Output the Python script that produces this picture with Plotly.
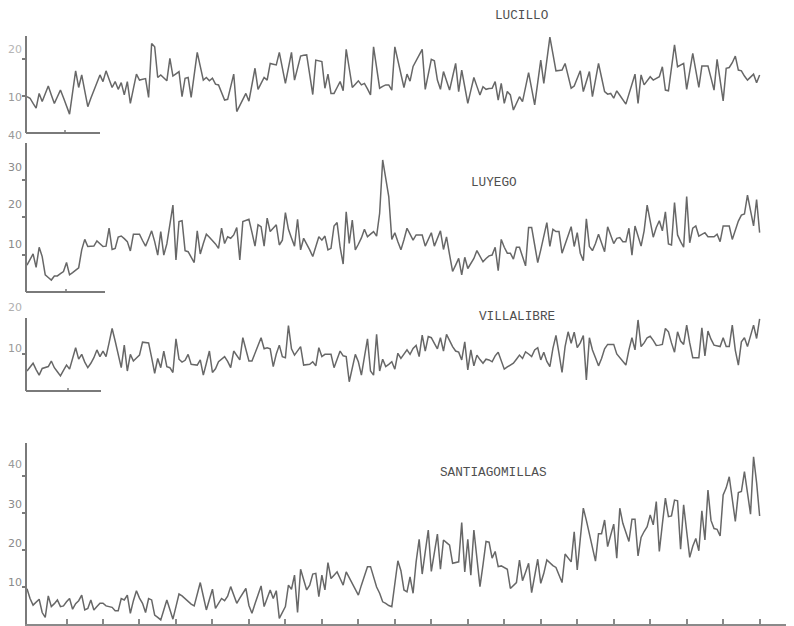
import plotly.graph_objects as go

# ---- data: monthly values (20 years, 242 points) ----
lucillo = [
    9.8, 9.4, 8.0, 6.7, 10.7, 8.5, 10.6, 12.7, 10.3, 8.0,
    9.8, 11.6, 9.5, 7.3, 5.1, 11.0, 16.8, 12.3, 15.7, 11.4,
    7.1, 9.4, 11.6, 13.6, 15.7, 13.9, 16.8, 14.5, 12.3, 13.9,
    11.8, 13.6, 10.3, 13.9, 8.0, 12.0, 15.9, 14.3, 14.5, 14.7,
    9.6, 24.2, 23.3, 15.0, 15.7, 14.9, 14.1, 20.2, 15.4, 16.0,
    16.6, 9.8, 14.8, 15.0, 9.6, 15.7, 21.8, 18.0, 14.3, 15.0,
    14.1, 14.8, 13.2, 13.0, 11.0, 8.9, 9.1, 12.5, 15.9, 5.8,
    7.5, 9.2, 10.7, 8.6, 13.0, 17.5, 11.8, 13.4, 15.0, 14.3,
    18.8, 18.6, 18.4, 21.8, 17.6, 13.4, 17.6, 21.8, 14.3, 17.5,
    20.8, 21.0, 21.1, 15.8, 10.4, 19.7, 19.5, 19.3, 12.1, 15.9,
    10.7, 10.7, 12.3, 13.9, 11.4, 22.6, 17.5, 12.3, 13.2, 14.1,
    13.0, 13.4, 11.9, 10.3, 23.3, 17.7, 12.1, 12.6, 13.0, 13.0,
    11.6, 23.3, 19.5, 15.7, 12.3, 15.9, 14.0, 18.0, 19.5, 21.0,
    22.6, 11.8, 15.8, 19.9, 19.5, 14.3, 11.8, 16.6, 14.1, 11.6,
    15.2, 18.8, 11.2, 17.0, 12.5, 8.0, 11.5, 15.0, 12.6, 10.3,
    12.5, 11.8, 12.0, 12.1, 13.9, 8.9, 13.4, 8.0, 11.2, 10.3,
    6.2, 8.0, 9.8, 8.5, 12.4, 16.3, 12.0, 7.6, 13.6, 19.7,
    13.4, 19.6, 25.9, 21.4, 16.8, 16.9, 17.0, 18.8, 15.5, 12.1,
    12.7, 14.8, 16.8, 11.2, 13.9, 16.6, 9.8, 14.3, 18.8, 15.0,
    11.2, 10.5, 10.7, 9.4, 11.4, 10.2, 9.0, 7.8, 10.5, 13.2,
    15.9, 8.0, 15.7, 13.0, 14.1, 15.2, 14.3, 14.8, 15.2, 17.9,
    11.6, 11.4, 17.6, 23.8, 17.9, 18.3, 18.8, 11.8, 16.6, 21.5,
    16.9, 12.3, 18.1, 18.1, 18.1, 14.9, 11.6, 19.9, 14.3, 8.7,
    17.5, 17.7, 19.0, 20.8, 17.0, 16.8, 15.4, 14.3, 15.1, 15.9,
    13.6, 15.7,
]

luyego = [
    7.2, 8.6, 10.2, 6.6, 12.0, 9.5, 4.6, 3.9, 3.2, 4.3,
    4.3, 4.9, 5.5, 7.9, 4.6, 5.2, 5.8, 6.5, 11.3, 14.1,
    12.2, 12.2, 12.3, 13.7, 13.0, 12.2, 12.3, 17.1, 11.4, 11.7,
    14.7, 15.0, 14.3, 13.5, 11.0, 15.5, 15.5, 15.5, 13.8, 12.3,
    14.3, 16.4, 13.5, 9.9, 16.2, 9.9, 12.9, 18.1, 23.3, 8.6,
    18.9, 19.1, 11.1, 10.8, 9.5, 7.9, 16.4, 10.2, 13.0, 15.5,
    14.7, 13.8, 12.9, 11.7, 17.1, 13.0, 14.8, 14.4, 15.3, 17.3,
    8.6, 18.9, 19.2, 19.5, 16.0, 12.3, 18.0, 17.5, 12.3, 19.8,
    16.2, 17.0, 18.0, 12.6, 13.9, 21.3, 16.8, 14.5, 12.3, 19.5,
    11.3, 14.4, 13.0, 11.3, 9.5, 12.0, 14.8, 13.9, 15.0, 11.3,
    11.7, 17.7, 18.6, 12.0, 7.5, 21.5, 13.0, 19.3, 11.3, 12.8,
    14.5, 16.8, 14.8, 15.5, 16.2, 15.0, 21.1, 35.4, 30.0, 25.6,
    14.1, 15.9, 13.5, 11.3, 14.0, 17.1, 15.5, 13.9, 15.3, 15.3,
    15.3, 12.3, 14.1, 15.9, 12.3, 14.4, 16.4, 11.4, 14.8, 10.0,
    5.5, 7.2, 9.0, 4.6, 9.3, 6.3, 7.5, 9.0, 11.1, 9.6,
    8.1, 9.0, 9.7, 9.9, 12.0, 5.7, 14.1, 12.0, 10.4, 10.4,
    8.8, 12.0, 12.0, 9.5, 7.0, 17.3, 17.3, 12.6, 7.9, 11.3,
    14.7, 18.6, 12.2, 16.8, 16.2, 16.2, 10.4, 12.8, 15.1, 17.5,
    12.2, 15.9, 10.4, 8.4, 19.6, 12.2, 11.1, 13.0, 15.5, 13.0,
    10.8, 17.5, 15.2, 13.0, 14.4, 14.6, 13.5, 13.5, 17.1, 9.9,
    17.7, 15.0, 12.3, 16.4, 23.3, 19.0, 14.7, 17.3, 19.1, 16.4,
    21.5, 12.9, 12.6, 24.0, 15.3, 13.5, 12.0, 25.6, 13.2, 17.1,
    17.7, 15.0, 15.5, 15.9, 14.8, 14.8, 14.8, 15.5, 13.5, 17.7,
    17.7, 17.7, 14.1, 16.5, 19.0, 20.6, 20.9, 26.0, 22.0, 17.7,
    24.8, 15.9,
]

villalibre = [
    5.4, 6.3, 7.5, 5.8, 4.3, 6.1, 6.3, 6.6, 8.1, 6.3,
    5.2, 4.1, 5.6, 7.0, 5.9, 8.8, 11.7, 8.6, 9.9, 7.8,
    6.3, 7.5, 9.0, 11.1, 9.3, 10.8, 9.3, 13.0, 16.9, 13.5,
    10.0, 6.3, 12.4, 5.4, 9.9, 8.1, 8.9, 9.7, 13.2, 13.2,
    13.0, 9.0, 4.8, 8.8, 6.3, 10.8, 6.6, 6.3, 5.0, 14.1,
    8.6, 7.8, 8.3, 9.9, 7.2, 7.1, 7.0, 8.4, 4.3, 7.5,
    10.8, 5.0, 6.0, 7.9, 8.6, 9.3, 8.0, 6.3, 10.8, 9.5,
    8.4, 14.4, 11.0, 8.1, 8.1, 10.2, 12.3, 14.4, 11.4, 11.7,
    11.4, 6.6, 10.0, 12.4, 9.3, 9.0, 17.7, 11.4, 9.7, 11.0,
    12.0, 7.0, 7.1, 7.2, 7.9, 6.8, 11.7, 9.3, 9.9, 9.9,
    9.9, 6.3, 8.5, 10.8, 9.5, 9.3, 2.5, 6.2, 9.9, 7.9,
    4.3, 9.2, 14.1, 5.4, 4.3, 15.3, 5.4, 8.6, 6.6, 7.2,
    7.9, 5.9, 10.2, 8.8, 10.0, 11.1, 9.9, 11.5, 12.3, 9.3,
    15.1, 10.8, 14.7, 14.4, 12.9, 11.4, 14.4, 10.8, 15.3, 13.5,
    12.0, 10.8, 10.5, 8.4, 13.3, 5.7, 11.1, 6.8, 9.7, 8.5,
    7.5, 8.6, 8.4, 7.9, 9.5, 10.5, 8.2, 5.9, 6.5, 7.0,
    7.5, 8.6, 9.7, 8.8, 10.6, 10.0, 9.3, 11.1, 11.7, 8.4,
    10.5, 8.0, 6.6, 11.5, 15.0, 10.2, 5.0, 12.0, 16.0, 12.9,
    15.9, 11.7, 13.0, 15.0, 3.0, 14.4, 11.1, 9.0, 6.8, 8.8,
    11.4, 12.6, 12.6, 12.6, 10.0, 9.0, 8.3, 7.0, 11.1, 14.4,
    11.1, 19.2, 12.0, 13.0, 14.4, 14.8, 13.7, 12.3, 12.4, 12.6,
    16.9, 16.0, 13.0, 10.5, 16.0, 13.5, 12.6, 17.8, 13.0, 9.0,
    9.0, 9.0, 17.1, 9.5, 16.2, 14.0, 12.4, 12.2, 12.0, 14.4,
    12.0, 12.0, 17.8, 11.0, 7.0, 13.3, 14.4, 12.0, 15.0, 17.8,
    14.2, 19.5,
]

santiagomillas = [
    9.5, 6.9, 5.1, 6.0, 6.7, 3.1, 1.8, 7.6, 4.7, 5.5,
    6.5, 4.7, 4.9, 6.0, 6.9, 4.0, 5.5, 6.3, 7.8, 3.8,
    4.2, 6.5, 3.8, 4.7, 5.6, 5.6, 4.9, 4.7, 4.5, 3.6,
    3.6, 6.9, 6.5, 7.8, 2.9, 6.3, 9.0, 7.0, 5.6, 3.1,
    6.9, 6.5, 2.4, 1.8, 1.1, 3.8, 6.5, 3.9, 1.3, 4.7,
    8.1, 7.6, 6.8, 6.0, 5.4, 4.9, 8.0, 11.2, 7.5, 3.8,
    6.6, 9.4, 4.2, 5.5, 6.9, 6.3, 7.5, 10.1, 7.8, 5.6,
    7.0, 8.5, 9.6, 5.0, 2.9, 5.5, 8.0, 10.3, 4.7, 7.0,
    9.2, 6.9, 9.0, 1.5, 3.0, 4.7, 10.5, 9.4, 13.2, 3.1,
    14.8, 12.0, 9.2, 10.5, 13.5, 13.7, 7.4, 13.2, 9.2, 16.6,
    12.3, 13.2, 14.1, 12.3, 10.5, 14.1, 12.5, 11.0, 9.4, 7.8,
    10.5, 13.0, 15.5, 15.5, 12.5, 10.0, 8.3, 6.0, 5.6, 5.0,
    4.7, 11.0, 17.1, 14.4, 9.2, 8.7, 12.7, 8.3, 16.8, 22.9,
    13.5, 19.5, 25.4, 14.2, 19.0, 24.3, 14.8, 22.7, 22.0, 21.3,
    16.4, 16.6, 16.8, 27.4, 14.1, 22.9, 13.2, 25.4, 17.5, 10.1,
    16.0, 22.3, 22.1, 17.8, 19.6, 15.5, 15.7, 15.2, 14.8, 9.6,
    10.5, 11.2, 17.3, 11.7, 14.0, 16.4, 8.5, 13.0, 17.5, 11.0,
    13.7, 17.3, 16.4, 15.8, 15.3, 13.0, 11.2, 18.9, 17.8, 16.8,
    24.9, 14.6, 23.0, 31.3, 28.0, 24.5, 20.8, 17.0, 24.4, 24.4,
    28.1, 20.9, 24.0, 27.0, 17.8, 31.3, 27.2, 24.8, 22.3, 28.3,
    28.3, 18.4, 23.4, 25.0, 26.3, 29.5, 26.8, 33.1, 19.6, 27.0,
    34.0, 29.0, 29.2, 33.5, 33.3, 20.2, 32.2, 25.0, 18.0, 21.0,
    23.1, 19.8, 30.6, 22.7, 36.2, 28.0, 25.8, 25.6, 23.8, 34.9,
    36.8, 39.8, 34.0, 27.7, 35.5, 35.8, 41.2, 35.5, 29.7, 45.2,
    38.2, 29.2,
]

titles = ["LUCILLO", "LUYEGO", "VILLALIBRE", "SANTIAGOMILLAS"]
year_ticks = [1 + 12 * k for k in range(1, 21)]

# the page places the figure 8px in from the window's top-left corner
OFF = 8
W, H = 794 - OFF, 626 - OFF


def fy(px):
    return 1 - (px - OFF) / H


def fx(px):
    return (px - OFF) / W


LINE = "#676767"
AXC = "#7a7a7a"
PXM = 3.04  # pixels per month

fig = go.Figure()
series = [lucillo, luyego, villalibre, santiagomillas]
yaxes = ["y", "y2", "y3", "y4"]
for s, ya in zip(series, yaxes):
    fig.add_trace(go.Scatter(x=list(range(len(s))), y=s, xaxis="x", yaxis=ya,
                             mode="lines", line=dict(color=LINE, width=1.5),
                             hoverinfo="skip"))

# panel geometry (window pixels): top, bottom(zero), px per unit, tick values
panels = [
    (36, 133, 3.7, [10, 20]),
    (143, 292, 3.73, [10, 20, 30]),
    (318, 391, 3.7, [10]),
    (443, 624, 3.7, [10, 20, 30, 40]),
]

layout = dict(
    width=W, height=H, margin=dict(l=0, r=0, t=0, b=0),
    paper_bgcolor="white", plot_bgcolor="white", showlegend=False,
    xaxis=dict(domain=[fx(27), 1], range=[0, (794 - 27) / PXM], anchor="y4",
               showline=True, linecolor="#8a8a8a", linewidth=1.5,
               ticks="inside", ticklen=5, tickcolor="#8a8a8a", tickwidth=1.5,
               tickvals=year_ticks, showticklabels=False,
               showgrid=False, zeroline=False),
)
for i, (top, bot, ppu, tv) in enumerate(panels):
    key = "yaxis" if i == 0 else f"yaxis{i+1}"
    layout[key] = dict(domain=[fy(bot), fy(top)], range=[0, (bot - top) / ppu],
                       anchor="x", showline=True, linecolor=AXC, linewidth=2,
                       ticks="outside", ticklen=3, tickcolor=AXC, tickwidth=1.5,
                       tickvals=tv, showticklabels=False,
                       showgrid=False, zeroline=False)
fig.update_layout(**layout)

# short x-axis stubs under the first three panels
shapes = []
for ybot, xend, xt in [(133, 100, 65), (292, 105, 66), (391, 101, 68)]:
    shapes.append(dict(type="line", xref="paper", yref="paper",
                       x0=fx(26), x1=fx(xend), y0=fy(ybot), y1=fy(ybot),
                       line=dict(color=AXC, width=2)))
    shapes.append(dict(type="line", xref="paper", yref="paper",
                       x0=fx(xt), x1=fx(xt), y0=fy(ybot), y1=fy(ybot - 3),
                       line=dict(color=AXC, width=1.5)))
fig.update_layout(shapes=shapes)

anns = []
# panel titles (typewriter style)
for t, (cx, cy) in zip(titles, [(521, 15), (494, 182), (517, 316), (493, 472)]):
    anns.append(dict(text=t, x=fx(cx), y=fy(cy), xref="paper", yref="paper",
                     showarrow=False, xanchor="center", yanchor="middle",
                     font=dict(family="Liberation Mono", size=12.7, color="#4f4f4f")))

# tick labels as printed on the scan
labels = [
    ("20", 49, "#b5b5b5"), ("10", 98, "#9a9a9a"), ("40", 136, "#999999"),
    ("30", 167, "#8a8a8a"), ("20", 205, "#8a8a8a"), ("10", 244, "#8a8a8a"),
    ("20", 307, "#b0b0b0"), ("10", 348, "#9a9a9a"),
    ("40", 464, "#999999"), ("30", 504, "#8a8a8a"), ("20", 543, "#8a8a8a"),
    ("10", 582, "#8a8a8a"),
]
for txt, ypx, col in labels:
    anns.append(dict(text=txt, x=fx(24), y=fy(ypx), xref="paper", yref="paper",
                     showarrow=False, xanchor="right", yanchor="middle",
                     font=dict(family="DejaVu Sans", size=11, color=col)))
fig.update_layout(annotations=anns)

fig.write_html("out.html")
